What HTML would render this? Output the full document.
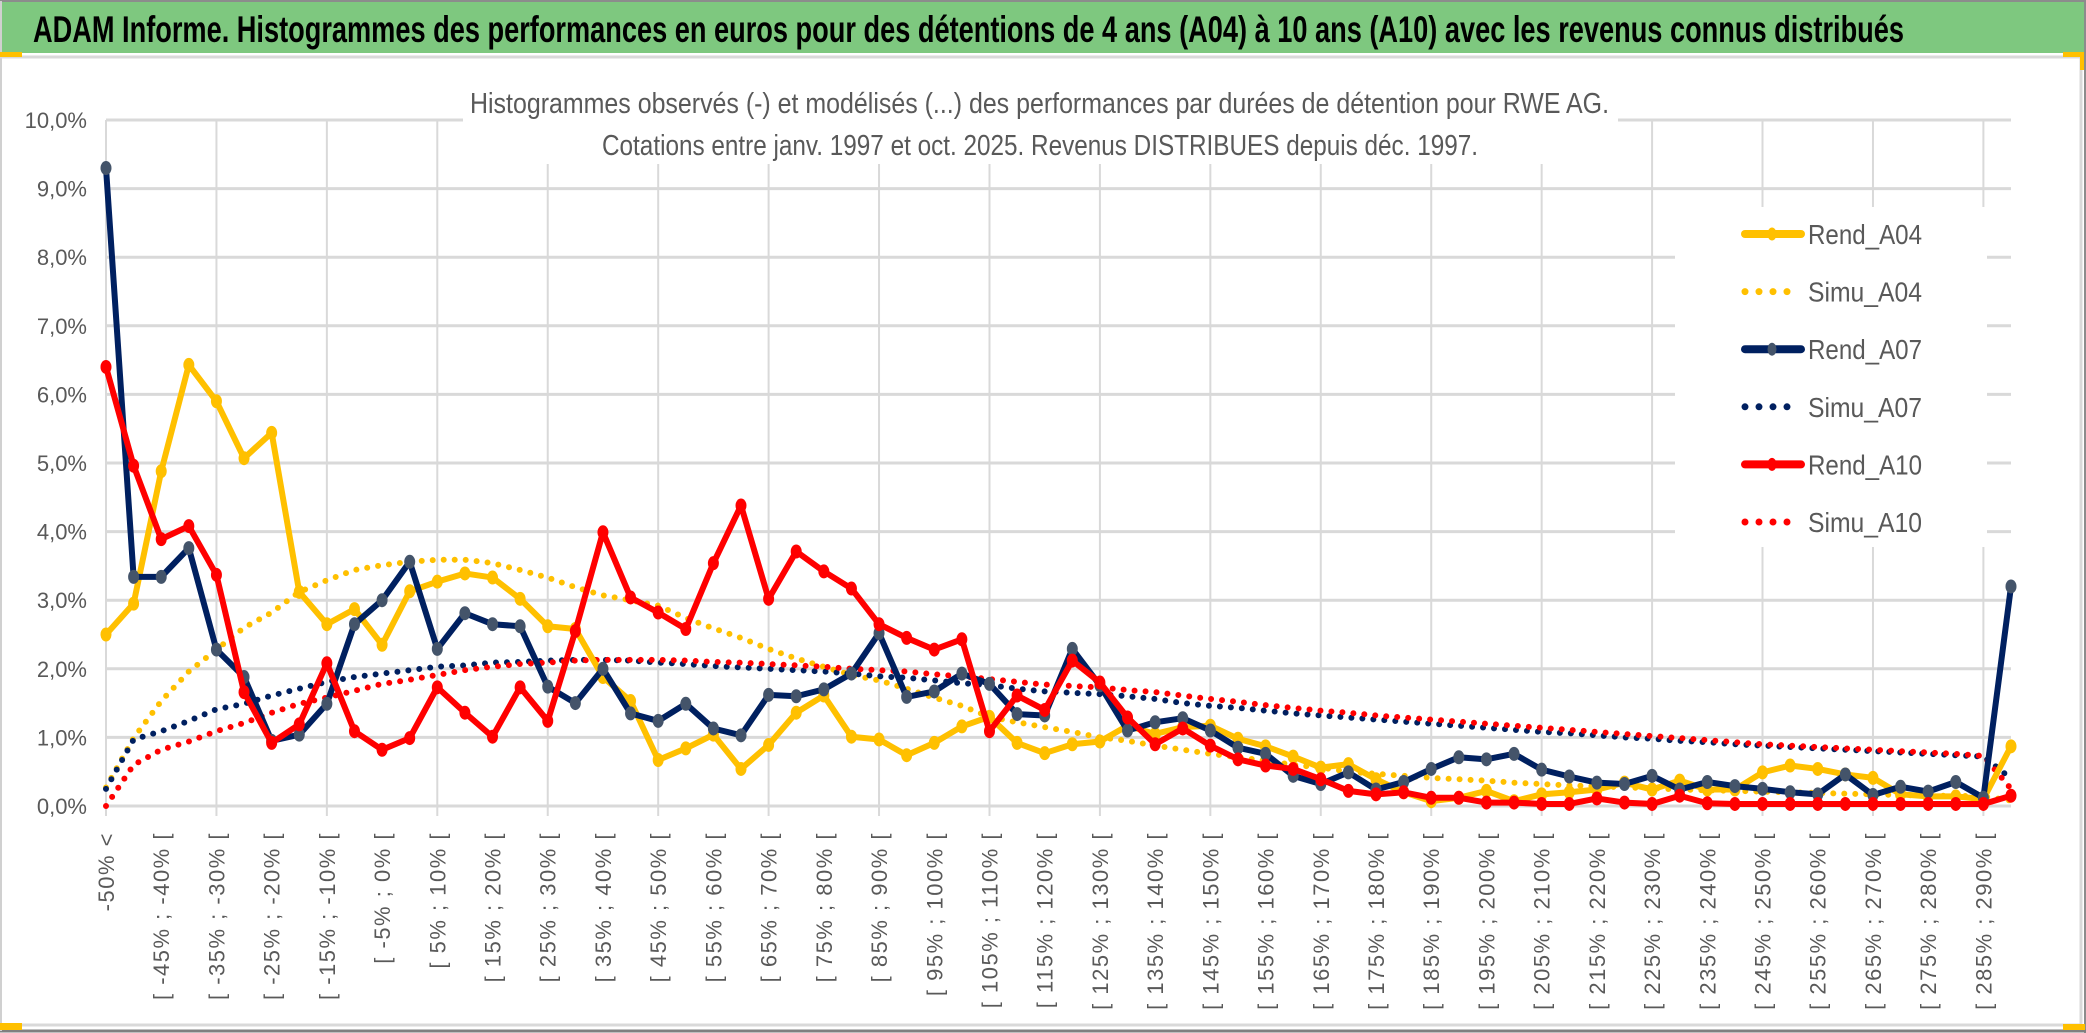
<!DOCTYPE html>
<html><head><meta charset="utf-8">
<style>
html,body{margin:0;padding:0;background:#fff;}
svg{display:block;}
text{font-family:"Liberation Sans",sans-serif;}
</style></head>
<body>
<svg id="chart" width="2086" height="1033" viewBox="0 0 2086 1033" xmlns="http://www.w3.org/2000/svg">
  <rect x="0" y="0" width="2086" height="1033" fill="#ffffff"/>
  <rect x="0" y="2" width="2084" height="51" fill="#7ec87f"/>
  <line x1="0" y1="1" x2="2086" y2="1" stroke="#8c8c8c" stroke-width="2"/>
  <line x1="2085" y1="0" x2="2085" y2="1033" stroke="#8c8c8c" stroke-width="2"/>
  <line x1="0" y1="1031" x2="2086" y2="1031" stroke="#7f7f7f" stroke-width="3"/>
  <rect x="0" y="1" width="2" height="1030" fill="#d0d0d0"/>
  <polyline points="0,57 2081,57 2081,1025 0,1025" fill="none" stroke="#d9d9d9" stroke-width="3"/>
  <rect x="0" y="52" width="22" height="5" fill="#ffc000"/>
  <rect x="0" y="1023" width="22" height="7" fill="#ffc000"/>
  <rect x="2063" y="52" width="20" height="5" fill="#ffc000"/>
  <rect x="2080" y="52" width="4" height="18" fill="#ffc000"/>
  <rect x="2063" y="1024" width="22" height="6" fill="#ffc000"/>
  <text x="33" y="42" font-size="37" font-weight="bold" fill="#000" textLength="1871" lengthAdjust="spacingAndGlyphs">ADAM Informe. Histogrammes des performances en euros pour des détentions de 4 ans (A04) à 10 ans (A10) avec les revenus connus distribués</text>
  <g id="grid"></g>
  <rect x="463" y="72" width="1155" height="92" fill="#fff"/>
  <text x="470" y="113" font-size="29" fill="#595959" textLength="1139" lengthAdjust="spacingAndGlyphs">Histogrammes observés (-) et modélisés (...) des performances par durées de détention pour RWE AG.</text>
  <text x="602" y="155" font-size="29" fill="#595959" textLength="876" lengthAdjust="spacingAndGlyphs">Cotations entre janv. 1997 et oct. 2025. Revenus DISTRIBUES depuis déc. 1997.</text>
  <g id="yaxis"></g>
  <g id="xaxis"></g>
  <g id="series"></g>
  <g id="legend"></g>
</svg>
<script>
const categories = ["-50% <","[ -50% ; -45% [","[ -45% ; -40% [","[ -40% ; -35% [","[ -35% ; -30% [","[ -30% ; -25% [","[ -25% ; -20% [","[ -20% ; -15% [","[ -15% ; -10% [","[ -10% ; -5% [","[ -5% ; 0% [","[ 0% ; 5% [","[ 5% ; 10% [","[ 10% ; 15% [","[ 15% ; 20% [","[ 20% ; 25% [","[ 25% ; 30% [","[ 30% ; 35% [","[ 35% ; 40% [","[ 40% ; 45% [","[ 45% ; 50% [","[ 50% ; 55% [","[ 55% ; 60% [","[ 60% ; 65% [","[ 65% ; 70% [","[ 70% ; 75% [","[ 75% ; 80% [","[ 80% ; 85% [","[ 85% ; 90% [","[ 90% ; 95% [","[ 95% ; 100% [","[ 100% ; 105% [","[ 105% ; 110% [","[ 110% ; 115% [","[ 115% ; 120% [","[ 120% ; 125% [","[ 125% ; 130% [","[ 130% ; 135% [","[ 135% ; 140% [","[ 140% ; 145% [","[ 145% ; 150% [","[ 150% ; 155% [","[ 155% ; 160% [","[ 160% ; 165% [","[ 165% ; 170% [","[ 170% ; 175% [","[ 175% ; 180% [","[ 180% ; 185% [","[ 185% ; 190% [","[ 190% ; 195% [","[ 195% ; 200% [","[ 200% ; 205% [","[ 205% ; 210% [","[ 210% ; 215% [","[ 215% ; 220% [","[ 220% ; 225% [","[ 225% ; 230% [","[ 230% ; 235% [","[ 235% ; 240% [","[ 240% ; 245% [","[ 245% ; 250% [","[ 250% ; 255% [","[ 255% ; 260% [","[ 260% ; 265% [","[ 265% ; 270% [","[ 270% ; 275% [","[ 275% ; 280% [","[ 280% ; 285% [","[ 285% ; 290% [","[ 290% ; 295% ["];
const yTicks = [0,1,2,3,4,5,6,7,8,9,10];
const yTickLabels = ["0,0%","1,0%","2,0%","3,0%","4,0%","5,0%","6,0%","7,0%","8,0%","9,0%","10,0%"];
const rendA04 = [2.5,2.95,4.88,6.43,5.9,5.07,5.44,3.12,2.65,2.87,2.35,3.13,3.27,3.39,3.33,3.02,2.62,2.58,1.88,1.53,0.67,0.84,1.04,0.54,0.89,1.36,1.61,1.01,0.97,0.74,0.92,1.16,1.3,0.92,0.77,0.9,0.94,1.17,1.05,1.15,1.17,0.98,0.87,0.72,0.56,0.61,0.39,0.2,0.07,0.12,0.22,0.07,0.17,0.2,0.24,0.34,0.24,0.37,0.24,0.24,0.49,0.59,0.54,0.46,0.41,0.17,0.14,0.14,0.1,0.87];
const simuA04 = [0.27,0.99,1.53,1.96,2.28,2.6,2.82,3.12,3.29,3.44,3.51,3.56,3.59,3.59,3.54,3.44,3.33,3.19,3.07,3.0,2.92,2.74,2.59,2.45,2.29,2.15,2.03,1.91,1.83,1.71,1.58,1.46,1.3,1.22,1.15,1.08,1.0,0.95,0.88,0.82,0.76,0.71,0.66,0.6,0.56,0.5,0.47,0.44,0.41,0.39,0.37,0.34,0.32,0.3,0.29,0.27,0.26,0.24,0.23,0.22,0.21,0.2,0.19,0.18,0.17,0.16,0.15,0.15,0.14,0.08];
const rendA07 = [9.3,3.34,3.34,3.76,2.28,1.88,0.95,1.04,1.49,2.65,3.0,3.56,2.29,2.81,2.65,2.62,1.74,1.5,2.0,1.35,1.24,1.49,1.13,1.03,1.62,1.6,1.7,1.93,2.52,1.59,1.67,1.93,1.78,1.34,1.32,2.29,1.76,1.1,1.22,1.28,1.1,0.85,0.76,0.44,0.32,0.49,0.24,0.35,0.54,0.71,0.68,0.76,0.53,0.43,0.34,0.32,0.44,0.24,0.35,0.29,0.25,0.2,0.17,0.46,0.16,0.28,0.21,0.35,0.12,3.2];
const simuA07 = [0.25,0.97,1.09,1.24,1.41,1.49,1.61,1.71,1.81,1.88,1.93,1.98,2.03,2.05,2.09,2.1,2.12,2.13,2.13,2.12,2.09,2.07,2.04,2.02,2.0,1.98,1.96,1.93,1.89,1.87,1.83,1.79,1.76,1.71,1.67,1.65,1.63,1.6,1.56,1.5,1.46,1.43,1.39,1.35,1.32,1.29,1.26,1.23,1.2,1.17,1.14,1.11,1.08,1.06,1.03,1.0,0.98,0.95,0.93,0.9,0.88,0.86,0.84,0.82,0.8,0.78,0.76,0.74,0.72,0.4];
const rendA10 = [6.4,4.96,3.89,4.08,3.37,1.66,0.92,1.19,2.08,1.09,0.82,0.99,1.73,1.36,1.01,1.73,1.24,2.55,3.99,3.04,2.82,2.58,3.54,4.38,3.02,3.71,3.42,3.17,2.65,2.45,2.28,2.43,1.09,1.61,1.4,2.12,1.8,1.29,0.9,1.13,0.88,0.68,0.59,0.54,0.39,0.22,0.17,0.2,0.12,0.12,0.05,0.05,0.03,0.03,0.11,0.05,0.03,0.15,0.04,0.03,0.03,0.03,0.03,0.03,0.03,0.03,0.03,0.03,0.03,0.15];
const simuA10 = [0.0,0.6,0.82,0.94,1.09,1.21,1.36,1.49,1.58,1.68,1.78,1.84,1.91,1.98,2.03,2.07,2.09,2.12,2.13,2.13,2.13,2.12,2.1,2.09,2.07,2.05,2.03,2.0,1.98,1.96,1.92,1.89,1.85,1.81,1.77,1.75,1.73,1.69,1.66,1.61,1.56,1.52,1.47,1.43,1.39,1.36,1.32,1.29,1.26,1.23,1.2,1.17,1.14,1.11,1.08,1.05,1.02,0.99,0.96,0.93,0.9,0.88,0.86,0.84,0.82,0.8,0.78,0.76,0.73,0.25];
const seriesNames = ["Rend_A04","Simu_A04","Rend_A07","Simu_A07","Rend_A10","Simu_A10"];

const NS = "http://www.w3.org/2000/svg";
const X0 = 106, X1 = 2011, Y0 = 806, Y10 = 120;
function xScale(i){ return X0 + (X1 - X0) * i / (categories.length - 1); }
function yScale(v){ return Y0 - (Y0 - Y10) * v / 10; }
function mk(tag, attrs, parent){ const e = document.createElementNS(NS, tag); for (const k in attrs) e.setAttribute(k, attrs[k]); parent.appendChild(e); return e; }

const grid = document.getElementById('grid');
yTicks.forEach(function(t){
  const l = mk('line', {x1: X0, x2: X1, y1: yScale(t), y2: yScale(t), stroke: '#d9d9d9', 'stroke-width': 3}, grid);
  
  
});
for (let i = 0; i < categories.length; i += 4) {
  const l = mk('line', {x1: xScale(i), x2: xScale(i), y1: Y10, y2: Y0 + 10, stroke: '#d9d9d9', 'stroke-width': 2}, grid);
  
  
}
const yaxis = document.getElementById('yaxis');
yTicks.forEach(function(t, k){
  const tx = mk('text', {x: 87, y: yScale(t) + 8, 'font-size': 22, fill: '#595959', 'text-anchor': 'end'}, yaxis);
  tx.textContent = yTickLabels[k];
  
  
});
const xaxis = document.getElementById('xaxis');
categories.forEach(function(c, i){
  if (i % 2 !== 0) return;
  const x = xScale(i) + 8, y = 832;
  const tx = mk('text', {x: x, y: y, 'font-size': 22, fill: '#595959', 'text-anchor': 'end', 'letter-spacing': 1.5, transform: 'rotate(-90 ' + x + ' ' + y + ')'}, xaxis);
  tx.textContent = c;
  
  
});

const series = document.getElementById('series');
function drawDotted(vals, color, name){
  const pts = vals.map(function(v, i){ return xScale(i) + ',' + yScale(v); }).join(' ');
  const p = mk('polyline', {points: pts, fill: 'none', stroke: color, 'stroke-width': 6, 'stroke-linecap': 'round', 'stroke-dasharray': '0 11'}, series);
  
  
}
function drawRend(vals, color, mcolor, name){
  const pts = vals.map(function(v, i){ return xScale(i) + ',' + yScale(v); }).join(' ');
  const p = mk('polyline', {points: pts, fill: 'none', stroke: color, 'stroke-width': 6, 'stroke-linejoin': 'round'}, series);
  
  
  vals.forEach(function(v, i){
    const c = mk('ellipse', {cx: xScale(i), cy: yScale(v), rx: 5.5, ry: 7, fill: mcolor}, series);
    
    
  });
}
drawDotted(simuA04, '#ffc000', 'simu-a04-line');
drawDotted(simuA07, '#002060', 'simu-a07-line');
drawDotted(simuA10, '#ff0000', 'simu-a10-line');
drawRend(rendA04, '#ffc000', '#ffc000', 'rend-a04');
drawRend(rendA07, '#002060', '#44546a', 'rend-a07');
drawRend(rendA10, '#ff0000', '#ff0000', 'rend-a10');

const legend = document.getElementById('legend');
const lg = mk('rect', {x: 1675, y: 207, width: 312, height: 340, fill: '#fff'}, legend);


const legColors = ['#ffc000','#ffc000','#002060','#002060','#ff0000','#ff0000'];
const legMarkers = ['#ffc000','#ffc000','#44546a','#44546a','#ff0000','#ff0000'];
seriesNames.forEach(function(n, k){
  const cy = 234 + k * 57.6;
  const g = mk('g', {}, legend);
  
  
  if (k % 2 === 0) {
    mk('line', {x1: 1745, x2: 1801, y1: cy, y2: cy, stroke: legColors[k], 'stroke-width': 8, 'stroke-linecap': 'round'}, g);
    mk('ellipse', {cx: 1772, cy: cy, rx: 4.5, ry: 6.5, fill: legMarkers[k]}, g);
  } else {
    mk('line', {x1: 1745, x2: 1790, y1: cy, y2: cy, stroke: legColors[k], 'stroke-width': 7, 'stroke-linecap': 'round', 'stroke-dasharray': '0 14'}, g);
  }
  const t = mk('text', {x: 1808, y: cy + 10, 'font-size': 28, fill: '#595959', textLength: 114, lengthAdjust: 'spacingAndGlyphs'}, g);
  t.textContent = n;
});
</script>
</body></html>
